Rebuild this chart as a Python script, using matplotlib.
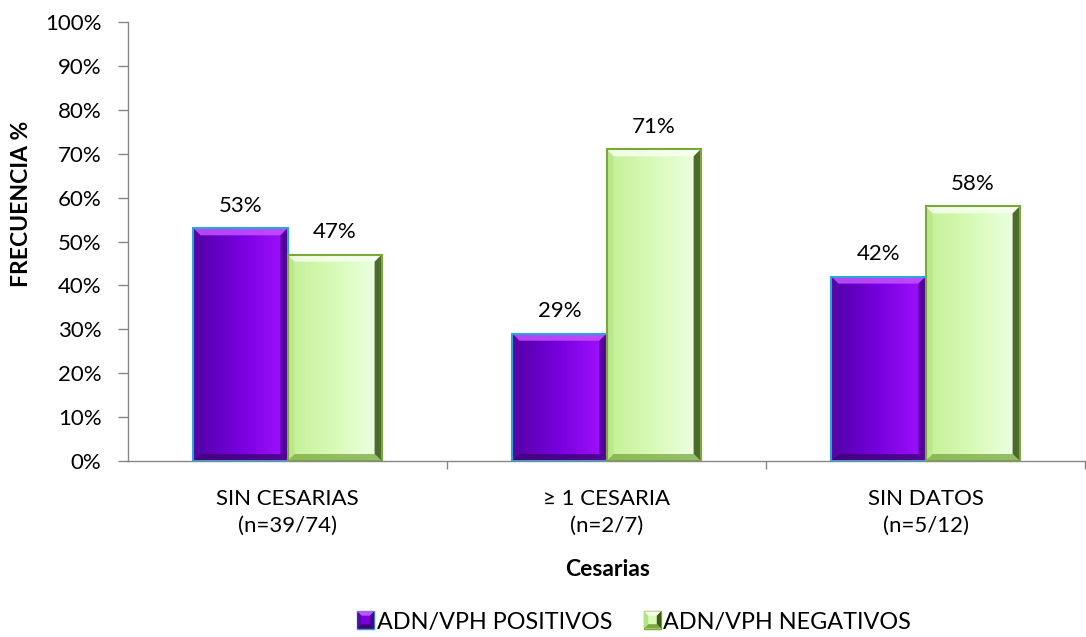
import numpy as np
import matplotlib
matplotlib.use("Agg")
import matplotlib.pyplot as plt
from matplotlib.colors import LinearSegmentedColormap
from matplotlib.patches import Polygon, Rectangle
from matplotlib.legend_handler import HandlerBase

categories = ["SIN CESARIAS\n(n=39/74)", "≥ 1 CESARIA\n(n=2/7)", "SIN DATOS\n(n=5/12)"]
positivos = [53, 29, 42]
negativos = [47, 71, 58]
series_names = ["ADN/VPH POSITIVOS", "ADN/VPH NEGATIVOS"]
y_ticks = [0, 10, 20, 30, 40, 50, 60, 70, 80, 90, 100]

plt.rcParams['font.family'] = ['Lato', 'DejaVu Sans']

W, H, DPI = 1086, 637, 100
fig = plt.figure(figsize=(W / DPI, H / DPI), dpi=DPI)
ax_l, ax_r, ax_t, ax_b = 128, 1085, 22, 461
ax = fig.add_axes([ax_l / W, (H - ax_b) / H, (ax_r - ax_l) / W, (ax_b - ax_t) / H])

xlim = (-0.5, 2.5)
ylim = (0, 100)
ax.set_xlim(*xlim)
ax.set_ylim(*ylim)
px_x = (xlim[1] - xlim[0]) / (ax_r - ax_l)
px_y = (ylim[1] - ylim[0]) / (ax_b - ax_t)

styles = {
    "pos": dict(grad=["#5200a6", "#7800de", "#a212ff"], edge="#2aa6d8",
                top="#c452ff", right="#4c0092", bottom="#3c0074", left="#5a0aa8"),
    "neg": dict(grad=["#c4f096", "#d8fbb8", "#f0ffe8"], edge="#7aa83a",
                top="#f8fff0", right="#3c5a1a", bottom="#7aa840", left="#b4e080"),
}

width = 0.295
x = np.arange(len(categories))
FS = 16


def draw_bevel_bar(ax, x0, w, h, st, b=7):
    cmap = LinearSegmentedColormap.from_list("g", st["grad"])
    grad = np.linspace(0, 1, 256).reshape(1, -1)
    ax.imshow(grad, cmap=cmap, extent=(x0, x0 + w, 0, h), aspect="auto",
              origin="lower", zorder=2, interpolation="bilinear")
    bx, by = b * px_x, b * px_y
    x1, y1 = x0 + w, h
    polys = [
        ([(x0, y1), (x1, y1), (x1 - bx, y1 - by), (x0 + bx, y1 - by)], st["top"], 0.85),
        ([(x1, y1), (x1, 0), (x1 - bx, by), (x1 - bx, y1 - by)], st["right"], 0.9),
        ([(x0, 0), (x1, 0), (x1 - bx, by), (x0 + bx, by)], st["bottom"], 0.75),
        ([(x0, 0), (x0, y1), (x0 + bx, y1 - by), (x0 + bx, by)], st["left"], 0.5),
    ]
    for pts, c, a in polys:
        ax.add_patch(Polygon(pts, closed=True, facecolor=c, edgecolor="none",
                             alpha=a, zorder=3))
    ax.add_patch(Rectangle((x0, 0), w, h, facecolor="none", edgecolor=st["edge"],
                           linewidth=1.5, zorder=4))


for i in range(len(categories)):
    for val, off, key in ((positivos[i], -width, "pos"), (negativos[i], 0, "neg")):
        draw_bevel_bar(ax, x[i] + off, width, val, styles[key])
        ax.annotate(f"{val}%", (x[i] + off + width / 2, val), xytext=(0, 9),
                    textcoords="offset points", ha="center", va="bottom",
                    fontsize=FS, color="#000000")

ax.set_xlim(*xlim)
ax.set_ylim(*ylim)

ax.set_yticks(y_ticks)
ax.set_yticklabels([f"{t}%" for t in y_ticks], fontsize=FS)
ax.set_xticks(x)
ax.set_xticklabels(categories, fontsize=FS, linespacing=1.45)
ax.set_xticks([0.5, 1.5, 2.5], minor=True)
ax.tick_params(axis="x", which="major", length=0, pad=20)
ax.tick_params(axis="x", which="minor", length=6, color="#868686", width=1)
ax.tick_params(axis="y", length=7, color="#868686", width=1, pad=12)

for s in ("top", "right"):
    ax.spines[s].set_visible(False)
for s in ("left", "bottom"):
    ax.spines[s].set_color("#868686")
    ax.spines[s].set_linewidth(1)

ax.set_ylabel("FRECUENCIA %", fontsize=16.5, fontweight="bold")
ax.yaxis.set_label_coords(-0.111, 0.585)
ax.set_xlabel("Cesarias", fontsize=16.5, fontweight="bold")
ax.xaxis.set_label_coords(0.5016, -0.248)
ax.xaxis.label.set_va("center")
ax.yaxis.label.set_va("center")


class BevelHandler(HandlerBase):
    def __init__(self, st):
        super().__init__()
        self.st = st

    def create_artists(self, legend, orig_handle, xdescent, ydescent, width,
                       height, fontsize, trans):
        s = min(width, height) * 1.0
        x0 = width - s
        y0 = (height - s) / 2
        st = self.st
        b = s * 0.25
        x1, y1 = x0 + s, y0 + s
        arts = [Rectangle((x0, y0), s, s, facecolor=st["grad"][1],
                          edgecolor=st["edge"], linewidth=1, transform=trans)]
        polys = [
            ([(x0, y1), (x1, y1), (x1 - b, y1 - b), (x0 + b, y1 - b)], st["top"]),
            ([(x1, y1), (x1, y0), (x1 - b, y0 + b), (x1 - b, y1 - b)], st["right"]),
            ([(x0, y0), (x1, y0), (x1 - b, y0 + b), (x0 + b, y0 + b)], st["bottom"]),
            ([(x0, y0), (x0, y1), (x0 + b, y1 - b), (x0 + b, y0 + b)], st["left"]),
        ]
        for pts, c in polys:
            arts.append(Polygon(pts, closed=True, facecolor=c, edgecolor="none",
                                transform=trans))
        return arts


h1 = Rectangle((0, 0), 1, 1)
h2 = Rectangle((0, 0), 1, 1)
fig.legend([h1, h2], series_names, loc="center", bbox_to_anchor=(634 / W, 1 - 622 / H),
           ncol=2, frameon=False, fontsize=16.8, handlelength=0.75, handleheight=0.75,
           handletextpad=0.1, columnspacing=1.35, borderpad=0,
           handler_map={h1: BevelHandler(styles["pos"]), h2: BevelHandler(styles["neg"])})

fig.savefig("out.png", dpi=DPI)
